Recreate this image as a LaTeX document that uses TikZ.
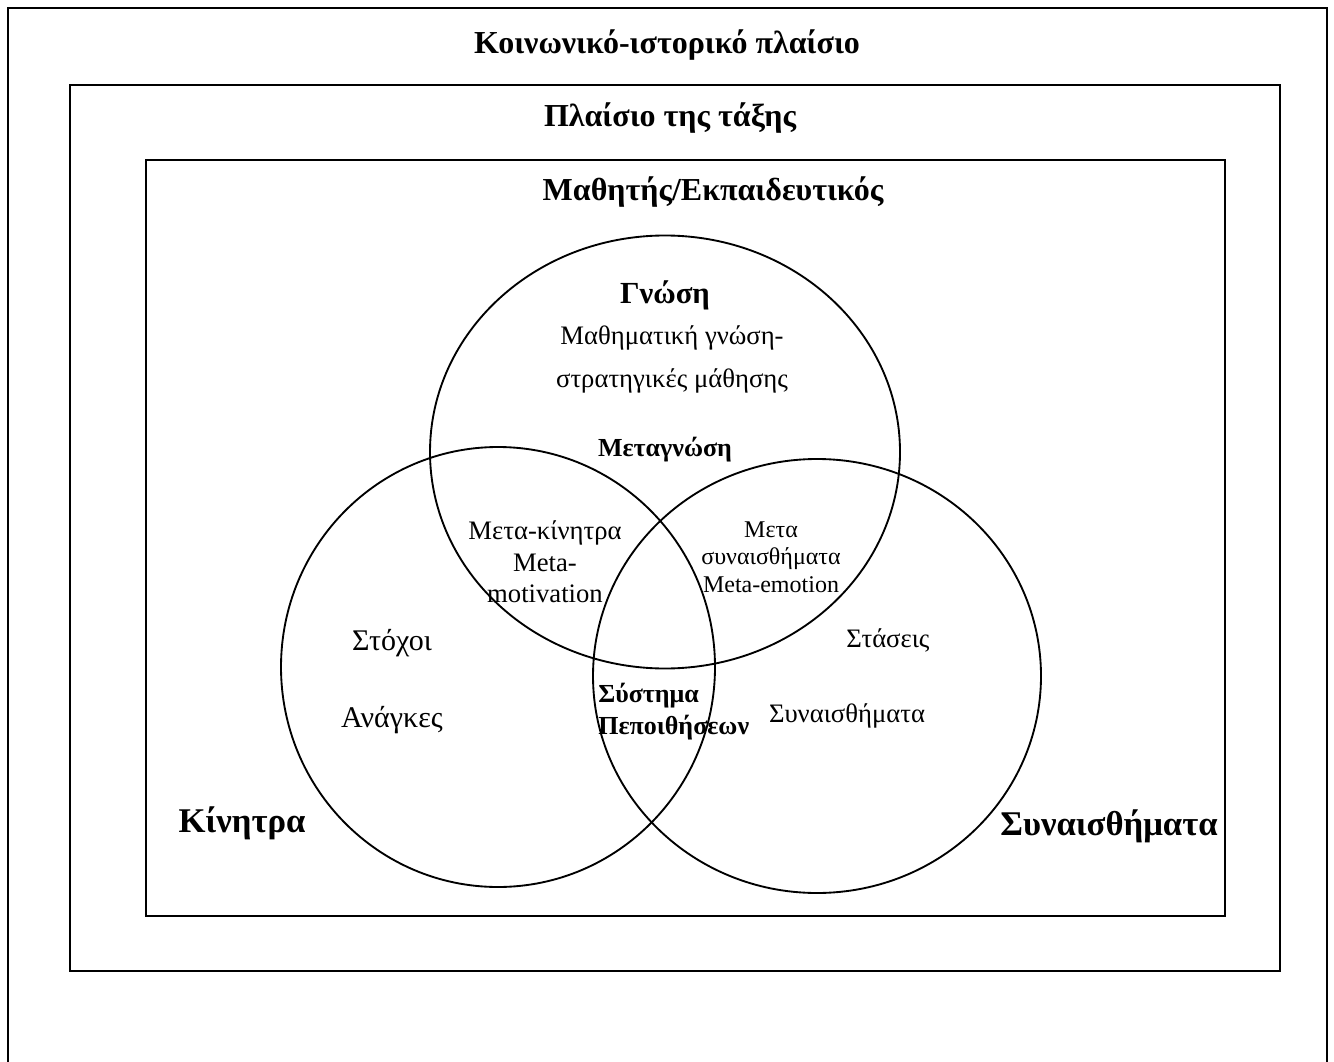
\documentclass[tikz,border=0pt]{standalone}
\usepackage{fontspec}
\setmainfont{Liberation Serif}
\begin{document}
\begin{tikzpicture}[x=0.75pt,y=-0.75pt,
  frame/.style={line width=1.7pt},
  ring/.style={line width=1.4pt},
  head/.style={font=\fontsize{24}{28}\selectfont\bfseries},
  big/.style={font=\fontsize{26}{30}\selectfont\bfseries},
  plain/.style={font=\fontsize{20}{32}\selectfont},
  large/.style={font=\fontsize{22.5}{26}\selectfont},
  small/.style={font=\fontsize{18}{20.5}\selectfont},
  mid/.style={font=\fontsize{19.5}{24}\selectfont\bfseries},
  every node/.style={inner sep=0pt}]
\useasboundingbox (0,0) rectangle (1334,1062);
% nested contexts
\draw[frame] (8,1070) -- (8,8) -- (1327,8) -- (1327,1070);
\draw[frame] (70,85) rectangle (1280,971);
\draw[frame] (146,160) rectangle (1225,916);
\node[head] (t1) at (667,45) {Κοινωνικό-ιστορικό πλαίσιο};
\node[head] (t2) at (670,118) {Πλαίσιο της τάξης};
\node[head] (t3) at (713,192) {Μαθητής/Εκπαιδευτικός};
% the three domains
\draw[ring] (665,452) ellipse [x radius=235, y radius=216.5];
\draw[ring] (498,667) ellipse [x radius=217, y radius=220];
\draw[ring] (817,676) ellipse [x radius=224, y radius=217];
% knowledge
\node[font=\fontsize{23}{27}\selectfont\bfseries] (gn) at (665,295) {Γνώση};
\node[plain] (gn1) at (672,338) {Μαθηματική γνώση-};
\node[plain] (gn2) at (672,381) {στρατηγικές μάθησης};
\node[mid] (meta) at (665,450) {Μεταγνώση};
% overlaps
\node[font=\fontsize{20}{23.5}\selectfont, align=center] (mk) at (545,562) {Μετα-κίνητρα\\Meta-\\motivation};
\node[small, align=center] (ms) at (771,557) {Μετα\\συναισθήματα\\Meta-emotion};
\node[mid, align=left, anchor=west] (sp) at (598,712) {Σύστημα\\Πεποιθήσεων};
% motivation
\node[large] (st) at (392,643) {Στόχοι};
\node[large] (an) at (392,720) {Ανάγκες};
\node[big] (ki) at (242,823) {Κίνητρα};
% emotions
\node[plain] (sts) at (888,640) {Στάσεις};
\node[plain] (sy) at (847,716) {Συναισθήματα};
\node[big] (sy2) at (1109,826) {Συναισθήματα};
\end{tikzpicture}
\end{document}
